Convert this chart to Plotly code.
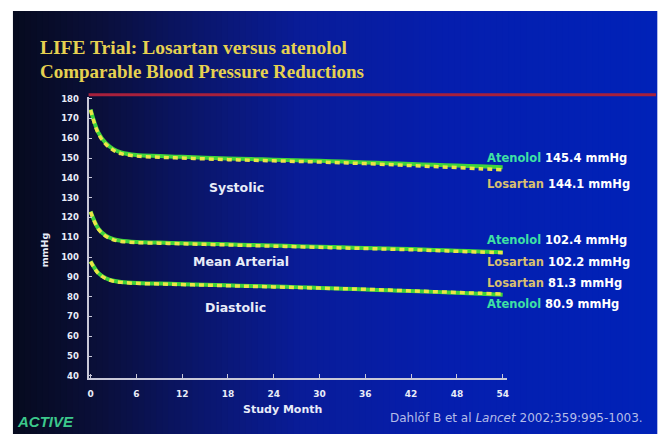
import plotly.graph_objects as go

W, H = 658, 437

# Study months and mean blood pressure (mmHg) for each arm
months = [0, 1, 2, 3, 4, 6, 9, 12, 15, 18, 21, 24, 27, 30, 33, 36, 39, 42, 45, 48, 51, 54]

sys_atenolol = [174.5, 163.0, 157.5, 154.5, 152.8, 151.5, 151.0, 150.6, 150.2, 149.8, 149.5, 149.2,
                148.9, 148.6, 148.2, 147.8, 147.4, 147.0, 146.6, 146.2, 145.8, 145.4]
sys_losartan = [174.3, 162.5, 157.0, 154.0, 152.2, 151.0, 150.4, 150.0, 149.6, 149.2, 148.9, 148.6,
                148.3, 148.0, 147.6, 147.2, 146.7, 146.2, 145.7, 145.2, 144.6, 144.1]

map_atenolol = [123.0, 114.5, 110.8, 109.0, 108.2, 107.6, 107.3, 107.0, 106.7, 106.4, 106.1, 105.8,
                105.5, 105.2, 104.9, 104.6, 104.3, 104.0, 103.6, 103.2, 102.8, 102.4]
map_losartan = [122.8, 114.2, 110.5, 108.7, 107.9, 107.3, 107.0, 106.7, 106.4, 106.1, 105.8, 105.5,
                105.2, 104.9, 104.6, 104.3, 104.0, 103.7, 103.3, 102.9, 102.5, 102.2]

dia_atenolol = [97.9, 92.0, 89.3, 88.0, 87.4, 86.9, 86.6, 86.3, 86.0, 85.7, 85.4, 85.1,
                84.8, 84.4, 84.0, 83.6, 83.2, 82.8, 82.4, 81.9, 81.4, 80.9]
dia_losartan = [97.7, 91.8, 89.1, 87.8, 87.2, 86.7, 86.4, 86.1, 85.8, 85.5, 85.2, 84.9,
                84.6, 84.3, 84.0, 83.7, 83.3, 82.9, 82.5, 82.1, 81.7, 81.3]

x_ticks = [0, 6, 12, 18, 24, 30, 36, 42, 48, 54]
y_ticks = list(range(40, 181, 10))

# End-of-study values shown at the right
end_labels = [
    ("Atenolol", sys_atenolol[-1], 157),
    ("Losartan", sys_losartan[-1], 184),
    ("Atenolol", map_atenolol[-1], 240),
    ("Losartan", map_losartan[-1], 263),
    ("Losartan", dia_losartan[-1], 284),
    ("Atenolol", dia_atenolol[-1], 305),
]

SANS = "DejaVu Sans, Verdana, sans-serif"
SERIF = "Liberation Serif, Times New Roman, serif"
GREEN = "#3fd43c"
YELLOW = "#ece447"
TEXT = "#e8ecf8"


def px_x(p):
    return p / W


def px_y(p):
    return 1 - p / H


fig = go.Figure()

for ate, los in [(sys_atenolol, sys_losartan), (map_atenolol, map_losartan), (dia_atenolol, dia_losartan)]:
    fig.add_trace(go.Scatter(x=months, y=ate, mode="lines", line=dict(color=GREEN, width=4, shape="spline"),
                             hoverinfo="skip", showlegend=False))
    fig.add_trace(go.Scatter(x=months, y=los, mode="lines",
                             line=dict(color=YELLOW, width=3.5, dash="5px,4px", shape="spline"),
                             hoverinfo="skip", showlegend=False))

# Slide background: white border, then a dark-to-blue horizontal gradient
stops = [(12, (6, 10, 30)), (100, (10, 15, 58)), (200, (10, 22, 108)), (300, (9, 28, 152)),
         (450, (5, 30, 174)), (658, (0, 34, 184))]


def grad(xp):
    for (x0, c0), (x1, c1) in zip(stops[:-1], stops[1:]):
        if x0 <= xp <= x1:
            t = (xp - x0) / (x1 - x0)
            return "rgb(%d,%d,%d)" % tuple(round(a + (b - a) * t) for a, b in zip(c0, c1))
    return "rgb(%d,%d,%d)" % stops[-1][1]


shapes = []
step = 6
for x0 in range(12, W, step):
    x1 = min(x0 + step, W)
    shapes.append(dict(type="rect", xref="paper", yref="paper", x0=px_x(x0), x1=px_x(x1) + 0.002,
                       y0=0, y1=px_y(8), fillcolor=grad(x0 + step / 2), line=dict(width=0), layer="below"))

# Red rule along the top of the plot
shapes.append(dict(type="line", xref="paper", yref="paper", x0=px_x(88), x1=1, y0=px_y(93), y1=px_y(93),
                   line=dict(color="#a8203c", width=3), layer="below"))

fig.update_layout(shapes=shapes)

ann = []
ann.append(dict(text="<b>LIFE Trial: Losartan versus atenolol</b>", x=px_x(37), y=px_y(45),
                font=dict(family=SERIF, size=19.5, color="#e6d150")))
ann.append(dict(text="<b>Comparable Blood Pressure Reductions</b>", x=px_x(37), y=px_y(69),
                font=dict(family=SERIF, size=19, color="#e6d150")))
for name, val, yp in end_labels:
    col = "#3fe0a4" if name == "Atenolol" else "#d8c070"
    ann.append(dict(text="<b><span style='color:%s'>%s</span> %.1f mmHg</b>" % (col, name, val),
                    x=px_x(486), y=px_y(yp), font=dict(family=SANS, size=11.5, color="white")))
for label, xc, yp in [("Systolic", 237, 187), ("Mean Arterial", 241, 262), ("Diastolic", 236, 309)]:
    ann.append(dict(text="<b>%s</b>" % label, x=px_x(xc), y=px_y(yp), xanchor="center",
                    font=dict(family=SANS, size=12.5, color=TEXT)))
ann.append(dict(text="<b>Study Month</b>", x=px_x(283), y=px_y(412), xanchor="center",
                font=dict(family=SANS, size=11, color=TEXT)))
ann.append(dict(text="<b>mmHg</b>", x=px_x(44), y=px_y(250), xanchor="center", textangle=-90,
                font=dict(family=SANS, size=9.5, color=TEXT)))
ann.append(dict(text="Dahlöf B et al <i>Lancet</i> 2002;359:995-1003.", x=px_x(389), y=px_y(421),
                font=dict(family=SANS, size=12, color="#b4bce8")))
ann.append(dict(text="<b><i>ACTIVE</i></b>", x=px_x(14), y=px_y(424),
                font=dict(family="Liberation Sans, Arial, sans-serif", size=15, color="#3cc88c")))
for a in ann:
    a.setdefault("xanchor", "left")
    a.update(xref="paper", yref="paper", yanchor="middle", showarrow=False)
fig.update_layout(annotations=ann)

# Plot area: month 0 at x=90 px, month 54 at x=504 px; 180 at y=97 px, 40 at y=378 px
ppm = (504 - 90) / 54
ppv = (378 - 97) / 140
fig.update_layout(
    width=W, height=H, margin=dict(l=0, r=0, t=0, b=0),
    paper_bgcolor="white", plot_bgcolor="rgba(0,0,0,0)",
    xaxis=dict(domain=[px_x(88), px_x(508)], range=[(88 - 90) / ppm, (508 - 90) / ppm],
               tickvals=x_ticks, ticks="inside", ticklen=4, tickcolor="#c8c8d8", ticklabelstandoff=6,
               showline=True, linecolor="#c8c8d8", linewidth=2, showgrid=False, zeroline=False,
               tickfont=dict(family=SANS, size=9, color=TEXT, weight="bold")),
    yaxis=dict(domain=[px_y(380), px_y(95)], range=[180 - (380 - 97) / ppv, 180 + (97 - 95) / ppv],
               tickvals=y_ticks, ticks="inside", ticklen=3, tickcolor="#c8c8d8", ticklabelstandoff=6,
               showline=True, linecolor="#c8c8d8", linewidth=2, showgrid=False, zeroline=False,
               tickfont=dict(family=SANS, size=8.5, color=TEXT, weight="bold")),
)

fig.write_html("out.html")
